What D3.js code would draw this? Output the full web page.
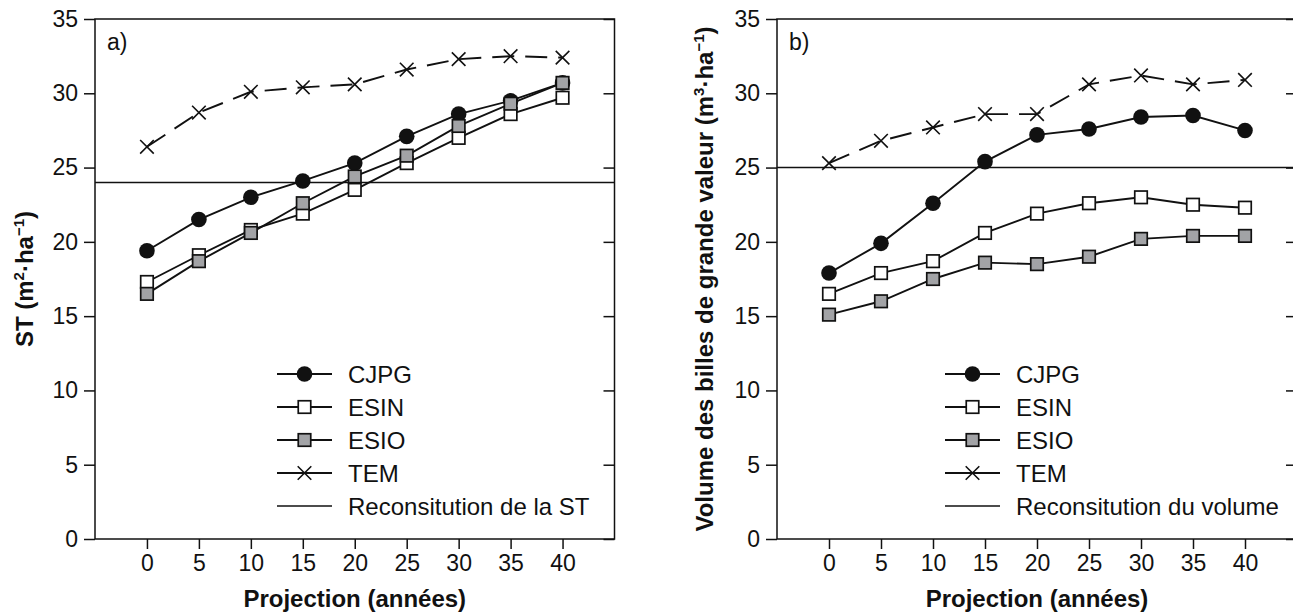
<!DOCTYPE html>
<html lang="fr">
<head>
  <meta charset="UTF-8" />
  <title>ST et volume</title>
  <script src="https://cdn.jsdelivr.net/npm/d3@7/dist/d3.min.js"></script>
  <style>
    body { margin: 0; background: #fff; }
    svg text { font-family: "Liberation Sans", Arial, Helvetica, sans-serif; fill: #111; }
  </style>
</head>
<body>
  <svg id="chart" width="1293" height="614"></svg>
  <script>
    // données
    const years = [0, 5, 10, 15, 20, 25, 30, 35, 40];
    const yTicks = [0, 5, 10, 15, 20, 25, 30, 35];
    const seriesNames = ["CJPG", "ESIN", "ESIO", "TEM"];

    // a) surface terrière
    const stCJPG = [19.4, 21.5, 23.0, 24.1, 25.3, 27.1, 28.6, 29.5, 30.7];
    const stESIN = [17.3, 19.1, 20.8, 21.9, 23.5, 25.3, 27.0, 28.6, 29.7];
    const stESIO = [16.5, 18.7, 20.6, 22.6, 24.4, 25.8, 27.8, 29.3, 30.7];
    const stTEM  = [26.4, 28.7, 30.1, 30.4, 30.6, 31.6, 32.3, 32.5, 32.4];
    const stRecon = 24;

    // b) volume des billes de grande valeur
    const volCJPG = [17.9, 19.9, 22.6, 25.4, 27.2, 27.6, 28.4, 28.5, 27.5];
    const volESIN = [16.5, 17.9, 18.7, 20.6, 21.9, 22.6, 23.0, 22.5, 22.3];
    const volESIO = [15.1, 16.0, 17.5, 18.6, 18.5, 19.0, 20.2, 20.4, 20.4];
    const volTEM  = [25.3, 26.8, 27.7, 28.6, 28.6, 30.6, 31.2, 30.6, 30.9];
    const volRecon = 25;

    const ink = "#111";
    const grey = "#a2a3a6";
    const svg = d3.select("#chart");

    const panels = [
      {
        tag: "a)", x0: 95, x1: 614.5,
        values: [stCJPG, stESIN, stESIO, stTEM], recon: stRecon,
        yTitle: ["ST (m", "2", "·ha", "−1", ")"],
        reconLabel: "Reconsitution de la ST",
        titleX: 33, legX: 277
      },
      {
        tag: "b)", x0: 777, x1: 1297,
        values: [volCJPG, volESIN, volESIO, volTEM], recon: volRecon,
        yTitle: ["Volume des billes de grande valeur (m", "3", "·ha", "−1", ")"],
        reconLabel: "Reconsitution du volume",
        titleX: 713, legX: 945
      }
    ];

    const plotTop = 19, plotBottom = 539;
    const y = d3.scaleLinear().domain([0, 35]).range([plotBottom, plotTop]);

    function drawMarker(g, name, cx, cy) {
      if (name === "CJPG") {
        g.append("circle").attr("cx", cx).attr("cy", cy).attr("r", 7.8)
          .attr("fill", ink);
      } else if (name === "ESIN" || name === "ESIO") {
        const s = 12.5;
        g.append("rect").attr("x", cx - s / 2).attr("y", cy - s / 2)
          .attr("width", s).attr("height", s)
          .attr("fill", name === "ESIN" ? "#fff" : grey)
          .attr("stroke", ink).attr("stroke-width", 1.7);
      } else {
        const h = 6.8;
        g.append("path")
          .attr("d", `M${cx - h},${cy - h}L${cx + h},${cy + h}M${cx - h},${cy + h}L${cx + h},${cy - h}`)
          .attr("stroke", ink).attr("stroke-width", 1.6).attr("fill", "none");
      }
    }

    panels.forEach(p => {
      const x = d3.scaleLinear().domain([-5, 45]).range([p.x0, p.x1]);
      const g = svg.append("g");

      // cadre
      g.append("rect")
        .attr("x", p.x0).attr("y", plotTop)
        .attr("width", p.x1 - p.x0).attr("height", plotBottom - plotTop)
        .attr("fill", "none").attr("stroke", ink).attr("stroke-width", 1.5);

      // axe gauche
      const yAxis = g.append("g").attr("transform", `translate(${p.x0},0)`)
        .call(d3.axisLeft(y).tickValues(yTicks).tickSize(11).tickPadding(6));
      // ticks intérieurs à droite
      const yRight = g.append("g").attr("transform", `translate(${p.x1},0)`)
        .call(d3.axisRight(y).tickValues(yTicks).tickSizeInner(-11).tickSizeOuter(0).tickFormat(""));
      // axe du bas
      const xAxis = g.append("g").attr("transform", `translate(0,${plotBottom})`)
        .call(d3.axisBottom(x).tickValues(years).tickSize(10).tickPadding(6));

      [yAxis, yRight, xAxis].forEach(a => {
        a.select(".domain").remove();
        a.selectAll(".tick line").attr("stroke", ink).attr("stroke-width", 1.5);
        a.selectAll(".tick text").attr("font-size", 23).attr("fill", ink)
          .style("font-family", '"Liberation Sans", Arial, sans-serif');
      });

      // ligne de reconstitution
      g.append("line")
        .attr("x1", p.x0).attr("x2", p.x1)
        .attr("y1", y(p.recon)).attr("y2", y(p.recon))
        .attr("stroke", ink).attr("stroke-width", 1.5);

      // séries
      const line = d3.line().x((d, i) => x(years[i])).y(d => y(d));
      p.values.forEach((vals, k) => {
        const name = seriesNames[k];
        g.append("path").datum(vals)
          .attr("d", line)
          .attr("fill", "none").attr("stroke", ink).attr("stroke-width", 1.9)
          .attr("stroke-dasharray", name === "TEM" ? "22,11" : null);
        vals.forEach((v, i) => drawMarker(g, name, x(years[i]), y(v)));
      });

      // étiquette du panneau
      g.append("text").attr("x", p.x0 + 12).attr("y", 50)
        .attr("font-size", 23).text(p.tag);

      // titre x
      g.append("text")
        .attr("x", (p.x0 + p.x1) / 2).attr("y", 607)
        .attr("text-anchor", "middle").attr("font-size", 24).attr("font-weight", "bold")
        .text("Projection (années)");

      // titre y
      const yt = g.append("text")
        .attr("transform", `translate(${p.titleX},${(plotTop + plotBottom) / 2}) rotate(-90)`)
        .attr("text-anchor", "middle").attr("font-size", 24).attr("font-weight", "bold");
      yt.append("tspan").text(p.yTitle[0]);
      yt.append("tspan").attr("dy", -9).attr("font-size", 15).text(p.yTitle[1]);
      yt.append("tspan").attr("dy", 9).text(p.yTitle[2]);
      yt.append("tspan").attr("dy", -9).attr("font-size", 15).text(p.yTitle[3]);
      yt.append("tspan").attr("dy", 9).text(p.yTitle[4]);

      // légende
      const rows = [374, 407, 440, 473, 506];
      const leg = g.append("g");
      seriesNames.concat(["recon"]).forEach((name, i) => {
        const ry = rows[i];
        leg.append("line")
          .attr("x1", p.legX).attr("x2", p.legX + 55)
          .attr("y1", ry).attr("y2", ry)
          .attr("stroke", ink).attr("stroke-width", name === "recon" ? 1.4 : 1.9);
        if (name !== "recon") drawMarker(leg, name, p.legX + 27.5, ry);
        leg.append("text")
          .attr("x", p.legX + 71).attr("y", ry).attr("dy", "0.36em")
          .attr("font-size", 24)
          .text(name === "recon" ? p.reconLabel : name);
      });
    });
  </script>
</body>
</html>
